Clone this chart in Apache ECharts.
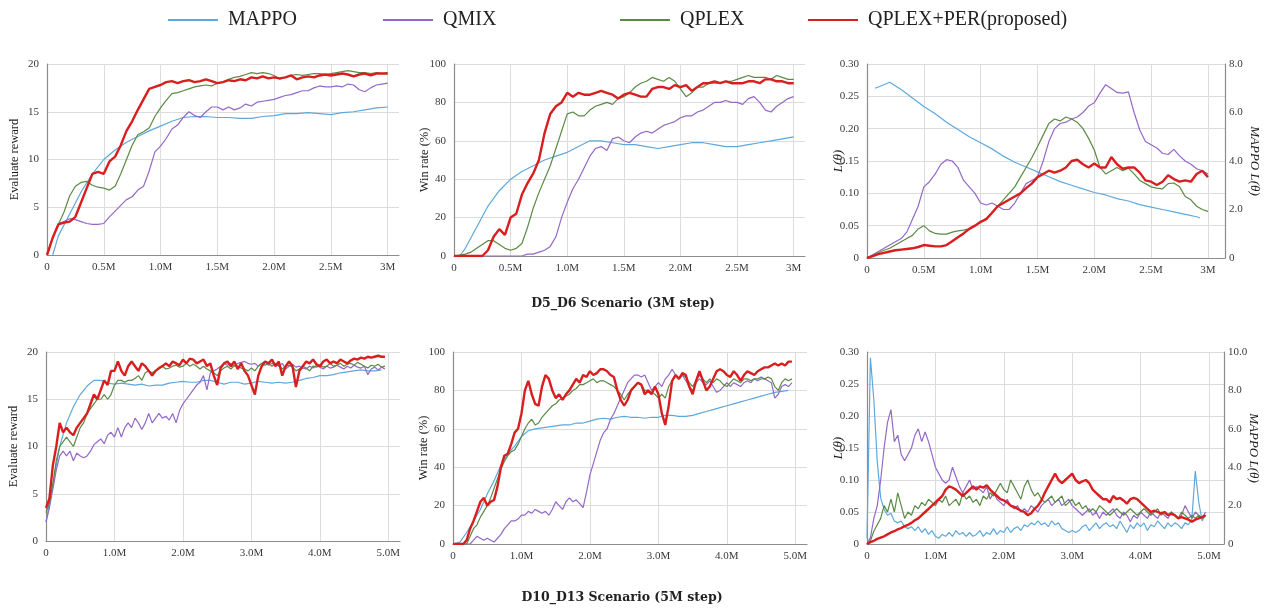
<!DOCTYPE html>
<html><head><meta charset="utf-8">
<script src="https://cdn.jsdelivr.net/npm/echarts@6/dist/echarts.min.js"></script>
<style>html,body{margin:0;padding:0;background:#fff}#c{width:1269px;height:610px}</style>
</head><body><div id="c"></div>
<script>
// ---------- categories / ticks ----------
const seriesNames = ['MAPPO','QMIX','QPLEX','QPLEX+PER(proposed)'];
const scenarioTitles = ['D5_D6 Scenario (3M step)','D10_D13 Scenario (5M step)'];
function steps(start, step, n){const a=[];for(let i=0;i<n;i++)a.push(Math.round((start+i*step)*1000)/1000);return a;}
const xTop = steps(0,0.05,61);            // 0 .. 3.0 M
const xTopCoarse = [0.05].concat(steps(0.1,0.1,30)); // 0.05, 0.1 .. 3.0 M
const xTopLossMappo = [0.07].concat(steps(0.1,0.1,29)).concat([2.93]);
const xBot = steps(0,0.05,100);           // 0 .. 4.95 M
const xBotCoarse = steps(0,0.1,50);       // 0 .. 4.9 M

// ---------- D5_D6 reward ----------
const d56RewardMappo = [0,2.0,4.3,6.6,8.5,10.0,11.0,11.8,12.4,13.0,13.5,14.0,14.4,14.5,14.5,14.4,14.4,14.3,14.3,14.5,14.6,14.8,14.8,14.9,14.8,14.7,14.9,15.0,15.2,15.4,15.5];
const d56RewardQmix = [0,1.8,3.3,3.5,3.8,3.7,3.5,3.3,3.2,3.2, 3.3,4.0,4.6,5.2,5.8,6.1,6.8,7.2,8.8,10.8, 11.4,12.2,13.2,13.6,14.4,15.0,14.6,14.4,15.0,15.5, 15.5,15.2,15.5,15.2,15.4,15.8,15.6,16.0,16.1,16.2, 16.3,16.5,16.7,16.8,17.0,17.2,17.2,17.5,17.7,17.6, 17.6,17.7,17.6,17.9,17.8,17.3,17.1,17.5,17.8,17.9, 18.0];
const d56RewardQplex = [0,1.8,3.2,4.5,6.2,7.2,7.6,7.7,7.3,7.1, 7.0,6.8,7.2,8.5,10.0,11.5,12.6,12.9,13.3,14.5, 15.4,16.2,16.9,17.0,17.2,17.4,17.6,17.7,17.8,17.7, 18.0,18.1,18.4,18.6,18.7,18.9,19.1,19.0,19.1,19.0, 18.8,18.4,18.6,18.8,18.9,18.8,18.9,19.0,19.0,18.9, 19.0,19.1,19.2,19.3,19.2,19.1,19.1,19.0,19.1,19.0, 19.1];
const d56RewardPer = [0,1.8,3.2,3.4,3.5,4.0,5.5,7.0,8.5,8.7, 8.5,9.8,10.3,11.5,13.0,14.0,15.2,16.3,17.4,17.6, 17.8,18.1,18.2,18.0,18.2,18.3,18.1,18.2,18.4,18.2, 18.0,18.1,18.3,18.2,18.4,18.3,18.6,18.5,18.7,18.5, 18.6,18.5,18.6,18.8,18.4,18.6,18.7,18.6,18.8,18.9, 18.8,18.9,19.0,18.9,18.7,18.9,19.0,18.8,19.0,19.0, 19.0];

// ---------- D5_D6 win rate ----------
const d56WinMappo = [0,4,15,26,34,40,44,47,50,52,54,57,60,60,59,58,58,57,56,57,58,59,59,58,57,57,58,59,60,61,62];
const d56WinQmix = [0,0,0,0,0,0,0,0,0,0, 0,0,0,1,1,2,3,5,10,20, 28,35,40,46,52,56,57,55,61,62, 60,59,62,64,65,64,66,68,69,70, 72,73,73,75,76,78,80,80,81,80, 80,79,82,83,80,76,75,78,80,82, 83];
const d56WinQplex = [0,0.5,1,2,4,6,8,8,6,4, 3,4,6.5,15,25,33,40,47,56,65, 74,75,73,73,76,78,79,80,79,82, 83,85,88,90,91,93,92,91,93,91, 87,83,85,88,88,90,90,90,91,91, 92,93,94,93,93,93,92,94,93,92, 92];
const d56WinPer = [0,0,0,0,0,0,3,10,14,11, 20,22,32,38,43,50,64,74,78,80, 85,83,85,84,84,85,86,85,84,82, 84,85,84,83,83,87,88,88,87,89, 88,89,86,88,90,90,91,90,91,90, 90,90,91,91,90,92,92,91,91,90, 90];

// ---------- D5_D6 loss ----------
const d56LossMappo = [7.0,7.05,7.25,6.95,6.6,6.25,5.95,5.6,5.3,5.0,4.75,4.5,4.2,3.95,3.75,3.55,3.35,3.15,3.0,2.85,2.7,2.6,2.45,2.35,2.2,2.1,2.0,1.9,1.8,1.7,1.65];
const d56LossQmix = [0,0.005,0.01,0.015,0.02,0.025,0.03,0.04,0.06,0.08, 0.11,0.118,0.13,0.145,0.152,0.15,0.14,0.12,0.11,0.1, 0.085,0.082,0.085,0.08,0.075,0.075,0.085,0.1,0.115,0.12, 0.125,0.15,0.18,0.2,0.208,0.21,0.215,0.218,0.225,0.235, 0.24,0.255,0.268,0.262,0.256,0.255,0.257,0.225,0.198,0.18, 0.175,0.17,0.162,0.16,0.168,0.158,0.15,0.145,0.138,0.135, 0.13];
const d56LossQplex = [0,0.004,0.008,0.012,0.015,0.02,0.025,0.03,0.035,0.045, 0.05,0.042,0.038,0.037,0.037,0.04,0.042,0.043,0.045,0.05, 0.055,0.062,0.07,0.08,0.09,0.1,0.11,0.125,0.14,0.155, 0.172,0.19,0.208,0.215,0.212,0.218,0.215,0.21,0.2,0.185, 0.167,0.14,0.13,0.135,0.14,0.135,0.139,0.13,0.12,0.115, 0.11,0.108,0.107,0.115,0.116,0.11,0.095,0.09,0.08,0.075, 0.072];
const d56LossPer = [0,0.003,0.006,0.008,0.01,0.012,0.013,0.014,0.015,0.017, 0.02,0.019,0.018,0.018,0.02,0.026,0.032,0.038,0.045,0.05, 0.056,0.06,0.07,0.08,0.085,0.09,0.095,0.1,0.108,0.115, 0.125,0.13,0.135,0.132,0.135,0.14,0.15,0.152,0.145,0.14, 0.146,0.14,0.14,0.156,0.145,0.138,0.14,0.14,0.132,0.12, 0.118,0.113,0.118,0.128,0.122,0.118,0.12,0.118,0.13,0.135, 0.125];

// ---------- D10_D13 reward ----------
const d1013RewardMappo = [2,6,10,12.5,14.2,15.5,16.4,17,17,16.7, 16.6,16.7,16.6,16.5,16.6,16.4,16.5,16.5,16.7,16.8, 16.9,16.8,16.8,17.0,17.0,16.8,16.6,16.8,16.8,16.6, 16.7,16.9,16.8,16.7,16.8,16.7,16.8,17.0,17.2,17.3, 17.5,17.5,17.6,17.8,17.9,18.0,18.1,18.0,18.0,18.1];
const d1013RewardQmix = [2,3.5,5.5,7.5,9,9.5,9,9.5,8.5,9.3, 9,8.8,9,9.5,10.2,10.5,10.8,10.3,11.2,11.5, 11,12,11,12,12.5,12,13,12.5,11.8,12.5, 13.5,12.5,13,13.5,13,13.2,12.8,13.5,12.5,13.8, 14.5,15,15.5,16,16.5,16.8,17.5,16,17.8,18, 18.2,18.5,18.8,18.6,18.8,18.5,18.8,18.9,19,18.8, 18.7,18.8,18.5,18.8,19,18.6,18.8,18.7,18.5,18.8, 18.2,18.5,18.7,18.4,18.5,18.3,18.2,18.5,18.3,18.6, 18.4,18.2,18.5,18.3,18.4,18.6,18.4,18.2,18.5,18.3, 18.6,18.4,18.3,18.5,17.6,18.2,18.4,18.1,18.4,18.2];
const d1013RewardQplex = [3,4,6,8.5,10,10.5,11,10.5,10,11, 12,12.5,13.5,14,14.5,15,15,15.5,15,15.5, 16.5,17,17,16.8,17,17,17.2,17.5,17,17.8, 18,17.8,18,18.2,18.5,18.2,18.3,18.5,18.6,18.4, 18.5,18.8,18.5,18.7,18.5,18.2,18.5,18.2,18,17.8, 17.5,18,18.3,18.5,18.2,18.6,18.5,18.3,18.2,18, 18.3,18,18.5,18.8,18.6,18.8,18.5,18.8,18.6,18.2, 18.5,18.6,18.4,18,18.2,18.5,18.3,18,18.5,18.4, 18.6,18.4,18.5,18.8,18.5,18.6,18.8,18.5,18.7,18.8, 18.6,18.9,18.7,18.5,18.3,18.6,18.5,18.7,18.4,18.5];
const d1013RewardPer = [3.5,4.5,8,10,12.5,11.5,12,11.5,11.2,12, 12.5,13,13.5,14.5,15.5,15,16,17,16.5,18, 18,19,18,17.5,18.5,19,18.5,18,18.8,18.5, 18,17.5,18,18.3,18.5,18.8,18.5,19,18.8,18.6, 19.2,18.8,19.3,19.2,18.8,19,19.2,18.5,18.8,17.5, 16.5,18.3,18.8,19,18.5,19,18.2,18.8,18,17.5, 16.5,15.5,17.5,18.5,19,18.8,19.2,18.5,19,17.5, 18.5,19,18.5,16.3,18,18.5,19,18.8,19.2,18.7, 18.5,19,19.2,18.8,19,18.8,19.2,19,18.8,19.1, 19.3,19.2,19.4,19.3,19.5,19.4,19.5,19.6,19.5,19.5];

// ---------- D10_D13 win rate ----------
const d1013WinMappo = [0,1,6,12,18,26,33,41,47,51, 56,59,60,60.5,61,61.5,62,62,63,63, 64,65,65.5,65,66,66.5,66,66,65.5,66, 66,67,67,66.5,66.5,67,68,69,70,71, 72,73,74,75,76,77,78,79,79.5,80];
const d1013WinQmix = [0,0,0,0,0,0,2,4,3,2, 3,2,1,3,5,8,10,12,12,13, 15,15,17,16,18,17,16,17,15,18, 22,20,18,22,24,22,23,21,19,27, 36,42,48,54,58,60,65,68,72,76, 80,84,86,88,88,87,88,84,80,82, 84,82,86,88,91,88,86,88,85,82, 80,84,86,84,83,85,82,79,80,82, 84,82,84,83,82,84,85,84,86,85, 86,86,85,84,76,78,82,83,82,84];
const d1013WinQplex = [0,0,0,0,0,4,8,10,14,17, 20,24,29,34,39,43,46,48,49,52, 56,60,63,65,62,63,66,68,70,72, 73,75,76,77,78,80,81,83,83,84, 85,86,84,85,85,84,83,82,80,78, 75,78,80,82,84,83,80,80,79,78, 76,78,76,82,85,88,86,88,87,84, 82,85,88,86,84,86,84,86,85,83, 82,84,86,85,84,86,86,85,86,86, 87,86,87,86,82,80,84,86,85,86];
const d1013WinPer = [0,0,0,0,2,8,12,17,22,24, 20,22,23,30,40,46,47,52,58,60, 68,80,85,78,73,72,82,88,86,80, 76,78,75,78,80,83,86,84,88,87, 90,88,89,91,91,90,88,87,80,75, 72,75,80,82,84,83,78,80,78,82, 78,68,62,72,85,88,86,89,88,82, 78,85,90,85,80,82,86,90,91,90, 88,87,90,88,85,88,90,89,88,90, 91,92,92,93,94,93,94,93,95,95];

// ---------- D10_D13 loss ----------
const d1013LossMappo = [0.3,9.7,7.5,4.3,2.4,1.8,1.5,1.6,1.2,1.1, 1.2,0.9,0.8,0.9,0.7,0.9,0.6,0.8,0.5,0.7, 0.4,0.3,0.5,0.4,0.6,0.4,0.7,0.5,0.6,0.4, 0.6,0.4,0.5,0.7,0.4,0.6,0.5,0.8,0.5,0.7, 0.6,0.9,0.6,0.8,0.9,0.7,1.0,0.9,1.1,1.0, 1.2,1.0,1.1,0.9,1.2,1.0,1.1,0.8,0.7,0.6, 0.7,0.6,0.7,0.9,1.0,0.7,0.9,1.1,0.8,1.0, 1.1,0.9,1.0,0.8,1.2,0.9,0.6,1.0,0.8,1.1, 0.9,1.1,0.7,1.0,0.9,1.2,1.0,0.8,1.1,0.9, 1.1,1.0,0.8,1.1,1.0,1.3,3.8,2.2,1.2,1.5];
const d1013LossQmix = [0,0.01,0.04,0.06,0.1,0.15,0.19,0.21,0.16,0.17, 0.14,0.13,0.14,0.15,0.17,0.18,0.16,0.175,0.16,0.14, 0.12,0.11,0.1,0.095,0.1,0.12,0.105,0.09,0.08,0.09, 0.1,0.085,0.09,0.085,0.08,0.09,0.07,0.08,0.07,0.065, 0.06,0.07,0.06,0.055,0.06,0.05,0.055,0.05,0.06,0.055, 0.05,0.06,0.065,0.07,0.06,0.065,0.07,0.06,0.065,0.07, 0.06,0.055,0.05,0.045,0.05,0.055,0.045,0.05,0.04,0.05, 0.045,0.05,0.055,0.045,0.04,0.05,0.045,0.035,0.045,0.04, 0.05,0.045,0.04,0.05,0.045,0.04,0.05,0.045,0.04,0.05, 0.045,0.04,0.045,0.06,0.05,0.04,0.05,0.045,0.04,0.05];
const d1013LossQplex = [0,0.005,0.02,0.03,0.04,0.06,0.05,0.07,0.05,0.08, 0.06,0.04,0.05,0.045,0.06,0.055,0.065,0.06,0.07,0.065, 0.06,0.07,0.065,0.075,0.06,0.065,0.07,0.06,0.08,0.07, 0.075,0.065,0.07,0.06,0.075,0.07,0.08,0.075,0.085,0.095, 0.085,0.08,0.1,0.09,0.08,0.07,0.09,0.1,0.085,0.075, 0.08,0.07,0.065,0.07,0.075,0.065,0.07,0.075,0.06,0.065, 0.07,0.06,0.065,0.055,0.06,0.05,0.055,0.05,0.06,0.055, 0.05,0.045,0.05,0.055,0.05,0.045,0.05,0.055,0.05,0.045, 0.05,0.055,0.05,0.045,0.05,0.055,0.045,0.05,0.045,0.05, 0.045,0.04,0.05,0.045,0.04,0.045,0.04,0.045,0.04,0.045];
const d1013LossPer = [0,0.003,0.005,0.008,0.01,0.012,0.015,0.018,0.02,0.023, 0.025,0.028,0.03,0.033,0.037,0.04,0.045,0.05,0.055,0.06, 0.065,0.07,0.075,0.085,0.09,0.088,0.085,0.08,0.075,0.08, 0.085,0.09,0.085,0.09,0.088,0.092,0.085,0.08,0.075,0.07, 0.068,0.065,0.06,0.058,0.055,0.052,0.05,0.045,0.048,0.055, 0.06,0.068,0.08,0.09,0.1,0.11,0.1,0.095,0.1,0.105, 0.11,0.1,0.095,0.098,0.1,0.095,0.085,0.08,0.075,0.07, 0.07,0.065,0.075,0.07,0.072,0.068,0.063,0.07,0.072,0.07, 0.065,0.06,0.055,0.05,0.052,0.05,0.048,0.05,0.045,0.047, 0.045,0.04,0.042,0.04,0.038,0.035,0.038,0.04,0.042,0.045];

// ---------- styling ----------
const colors = {MAPPO:'#5fa8dc', QMIX:'#9468c8', QPLEX:'#5b8a45', 'QPLEX+PER(proposed)':'#d81e1e'};
const widths = {MAPPO:1.2, QMIX:1.2, QPLEX:1.2, 'QPLEX+PER(proposed)':2.4};
const serif = 'Liberation Serif';
const gridColor = '#dcdcdc', axisColor = '#8c8c8c', labelColor = '#3a3a3a';

const grids = [
  {left:47, top:64, width:352, height:191},
  {left:454, top:64, width:351, height:192},
  {left:867, top:64, width:358, height:194},
  {left:46, top:352, width:354, height:189},
  {left:453, top:352, width:354, height:192},
  {left:867, top:352, width:357, height:192}
];
function fmtTop(v){ if(Math.abs(v*2-Math.round(v*2))>1e-6) return ''; if(v===0) return '0'; if(Math.abs(v-3)<1e-6) return '3M'; return v.toFixed(1)+'M'; }
function fmtBot(v){ if(Math.abs(v-Math.round(v))>1e-6) return ''; if(v===0) return '0'; return v.toFixed(1)+'M'; }
function xAxis(g, max, interval, fmt){
  return {type:'value', gridIndex:g, min:0, max:max, interval:interval,
    axisLine:{show:true, onZero:false, lineStyle:{color:axisColor, width:1.2}},
    axisTick:{show:false},
    axisLabel:{formatter:fmt, showMaxLabel:false, color:labelColor, fontFamily:serif, fontSize:11, margin:7},
    splitLine:{show:true, showMaxLine:false, lineStyle:{color:gridColor, width:1}}};
}
function yAxis(g, max, interval, fmt, name, nameGap, italic, pos){
  const right = pos==='right';
  return {type:'value', gridIndex:g, min:0, max:max, interval:interval, position:pos||'left',
    name:name, nameLocation:'middle', nameGap:nameGap, nameRotate: right?-90:90, nameMoveOverlap:false,
    nameTextStyle:{fontFamily:serif, fontSize: italic?13:12.5, fontStyle: italic?'italic':'normal', color:'#1a1a1a'},
    axisLine:{show:true, lineStyle:{color:axisColor, width:1.2}},
    axisTick:{show:false},
    axisLabel:{formatter:fmt, color:labelColor, fontFamily:serif, fontSize:11, margin: right?4:8},
    splitLine:{show:!right, lineStyle:{color:gridColor, width:1}}};
}
const intFmt = v => String(Math.round(v));
const lossFmt = v => v===0 ? '0' : v.toFixed(2);
const mappoFmt = v => v===0 ? '0' : v.toFixed(1);

const xAxes = [
  xAxis(0,3.1,0.5,fmtTop), xAxis(1,3.1,0.5,fmtTop), xAxis(2,3.15,0.5,fmtTop),
  xAxis(3,5.17,1,fmtBot), xAxis(4,5.17,1,fmtBot), xAxis(5,5.22,1,fmtBot)
];
const yAxes = [
  yAxis(0,20,5,intFmt,'Evaluate reward',26,false),
  yAxis(1,100,20,intFmt,'Win rate (%)',23,false),
  yAxis(2,0.30,0.05,lossFmt,'L(θ)',22,true),
  yAxis(3,20,5,intFmt,'Evaluate reward',26,false),
  yAxis(4,100,20,intFmt,'Win rate (%)',23,false),
  yAxis(5,0.30,0.05,lossFmt,'L(θ)',22,true),
  yAxis(2,8,2,mappoFmt,'MAPPO L(θ)',23,true,'right'),
  yAxis(5,10,2,mappoFmt,'MAPPO L(θ)',23,true,'right')
];

function line(name, xs, ys, axisIdx, yIdx){
  return {type:'line', name:name, xAxisIndex:axisIdx, yAxisIndex:yIdx, symbol:'none', showSymbol:false,
    data: xs.map((x,i)=>[x, ys[i]]),
    lineStyle:{color:colors[name], width:widths[name]}, itemStyle:{color:colors[name]},
    z: name==='QPLEX+PER(proposed)'?5:2, silent:true, animation:false};
}
const [N0,N1,N2,N3] = seriesNames;
const series = [
  line(N0,xTopCoarse,d56RewardMappo,0,0), line(N1,xTop,d56RewardQmix,0,0), line(N2,xTop,d56RewardQplex,0,0), line(N3,xTop,d56RewardPer,0,0),
  line(N0,xTopCoarse,d56WinMappo,1,1), line(N1,xTop,d56WinQmix,1,1), line(N2,xTop,d56WinQplex,1,1), line(N3,xTop,d56WinPer,1,1),
  line(N0,xTopLossMappo,d56LossMappo,2,6), line(N1,xTop,d56LossQmix,2,2), line(N2,xTop,d56LossQplex,2,2), line(N3,xTop,d56LossPer,2,2),
  line(N0,xBotCoarse,d1013RewardMappo,3,3), line(N1,xBot,d1013RewardQmix,3,3), line(N2,xBot,d1013RewardQplex,3,3), line(N3,xBot,d1013RewardPer,3,3),
  line(N0,xBotCoarse,d1013WinMappo,4,4), line(N1,xBot,d1013WinQmix,4,4), line(N2,xBot,d1013WinQplex,4,4), line(N3,xBot,d1013WinPer,4,4),
  line(N0,xBot,d1013LossMappo,5,7), line(N1,xBot,d1013LossQmix,5,5), line(N2,xBot,d1013LossQplex,5,5), line(N3,xBot,d1013LossPer,5,5)
];
const legendLefts = [163, 378, 615, 803];
const legends = seriesNames.map((n,i)=>({data:[n], left:legendLefts[i], top:5, icon:'rect', itemWidth:50, itemHeight:2, selectedMode:false,
  textStyle:{fontFamily:serif, fontSize:20, color:'#222', padding:[0,0,0,5]}}));

const chart = echarts.init(document.getElementById('c'), null, {renderer:'canvas'});
chart.setOption({
  backgroundColor:'#ffffff', animation:false,
  legend: legends, grid: grids, xAxis: xAxes, yAxis: yAxes, series: series,
  graphic: [
    {type:'text', x:623, y:304, style:{text:scenarioTitles[0], font:'bold 12.5px "DejaVu Serif"', fill:'#222', textAlign:'center', textVerticalAlign:'middle'}},
    {type:'text', x:622, y:598, style:{text:scenarioTitles[1], font:'bold 12.5px "DejaVu Serif"', fill:'#222', textAlign:'center', textVerticalAlign:'middle'}}
  ]
});
</script></body></html>
